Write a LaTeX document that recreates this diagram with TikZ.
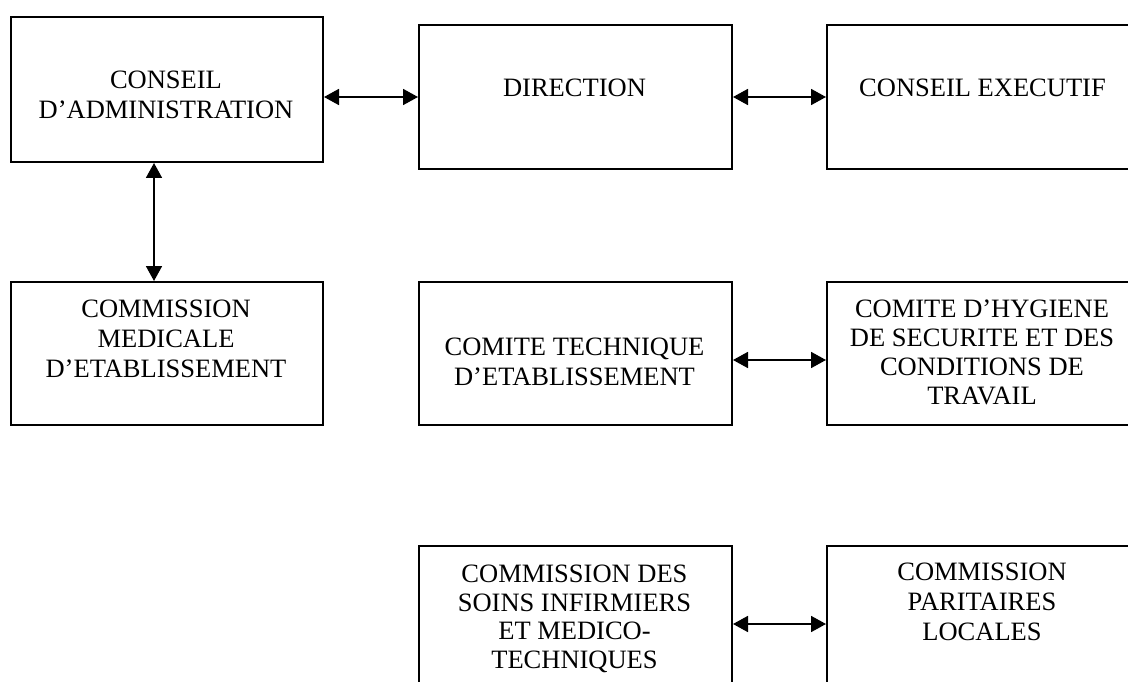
\documentclass[tikz,border=0pt]{standalone}
\usepackage{fontspec}
\setmainfont{Liberation Serif}
\usetikzlibrary{arrows.meta}
\tikzset{
  boxnode/.style={draw=black, line width=2pt, rectangle, inner sep=0pt, anchor=north west},
  boxtext/.style={anchor=base, align=center, inner sep=0pt, font=\fontsize{26.5}{30}\selectfont},
  dbl/.style={line width=1.8pt, {Triangle[length=15pt,width=16pt]}-{Triangle[length=15pt,width=16pt]}}
}
\begin{document}
\begin{tikzpicture}[x=1pt,y=-1pt]
\useasboundingbox (0,0) rectangle (1128,682);
% boxes
\node[boxnode, minimum width=312pt, minimum height=145pt] (A) at (10,16) {};
\node[boxnode, minimum width=313pt, minimum height=144pt] (B) at (418,24) {};
\node[boxnode, minimum width=313pt, minimum height=144pt] (C) at (826,24) {};
\node[boxnode, minimum width=312pt, minimum height=143pt] (D) at (10,281) {};
\node[boxnode, minimum width=313pt, minimum height=143pt] (E) at (418,281) {};
\node[boxnode, minimum width=313pt, minimum height=143pt] (F) at (826,281) {};
\node[boxnode, minimum width=313pt, minimum height=160pt] (G) at (418,545) {};
\node[boxnode, minimum width=313pt, minimum height=160pt] (H) at (826,545) {};
% texts (anchor = baseline of last line)
\node[boxtext] (At) at (166,119) {CONSEIL\\D’ADMINISTRATION};
\node[boxtext] (Bt) at (574.5,97) {DIRECTION};
\node[boxtext] (Ct) at (982.5,97) {CONSEIL EXECUTIF};
\node[boxtext] (Dt) at (166,377) {COMMISSION\\MEDICALE\\D’ETABLISSEMENT};
\node[boxtext] (Et) at (574.5,385) {COMITE TECHNIQUE\\D’ETABLISSEMENT};
\node[boxtext, font=\fontsize{26.5}{29}\selectfont] (Ft) at (982,404) {COMITE D’HYGIENE\\DE SECURITE ET DES\\CONDITIONS DE\\TRAVAIL};
\node[boxtext, font=\fontsize{26.5}{28.5}\selectfont] (Gt) at (574.5,668) {COMMISSION DES\\SOINS INFIRMIERS\\ET MEDICO-\\TECHNIQUES};
\node[boxtext] (Ht) at (982,640) {COMMISSION\\PARITAIRES\\LOCALES};
% helper coordinates
\coordinate (ad) at (154,200);
\coordinate (ef) at (780,360);
\coordinate (gh) at (780,624);
% connectors
\draw[dbl] (B.west -| A.east) -- (B.west);
\draw[dbl] (B.east) -- (C.west);
\draw[dbl] (A.south -| ad) -- (D.north -| ad);
\draw[dbl] (E.east |- ef) -- (F.west |- ef);
\draw[dbl] (G.east |- gh) -- (H.west |- gh);
\end{tikzpicture}
\end{document}
